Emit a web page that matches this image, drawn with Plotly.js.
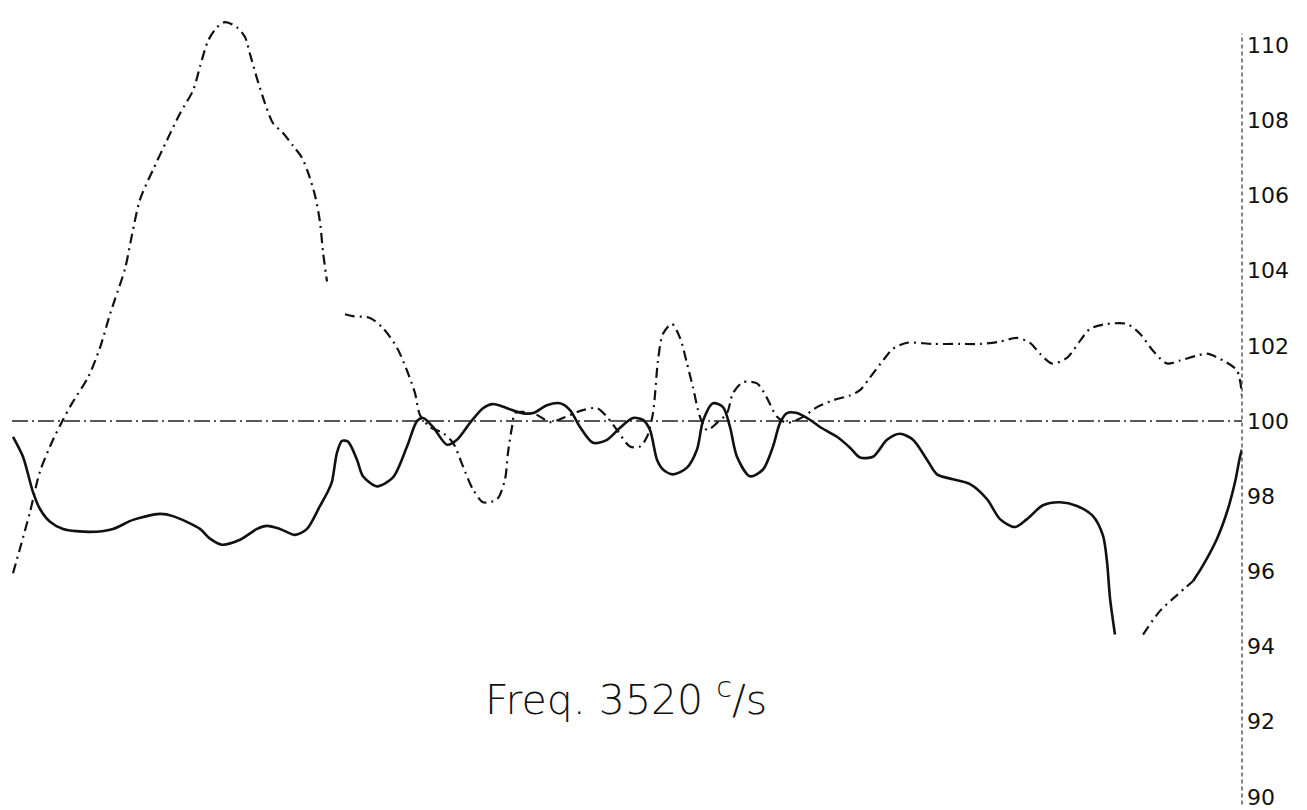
<!DOCTYPE html>
<html>
<head>
<meta charset="utf-8">
<script src="https://cdn.plot.ly/plotly-3.0.1.min.js"></script>
<style>
  html, body { margin: 0; padding: 0; background: #ffffff; }
  #chart { width: 1307px; height: 810px; }
</style>
</head>
<body>
<div id="chart"></div>
<script>
// ---- Data (x: position along record, y: level) ----
const solidX = [1.3, 2.3, 3.3, 4.0, 5.0, 6.3, 9.0, 11.3, 13.3, 16.0, 17.3, 20.0, 21.0, 22.2, 24.0, 25.7, 26.7, 28.0, 29.5, 30.7,
  32.0, 32.8, 33.2, 33.7, 34.2, 34.8, 35.7, 36.3, 37.7, 39.3, 40.7, 41.7, 42.3, 43.3, 44.7, 45.7, 47.0, 48.3, 49.3, 50.7,
  52.2, 53.3, 54.7, 56.0, 57.0, 58.0, 59.3, 60.7, 62.0, 63.3, 64.3, 65.0, 65.7, 66.3, 67.3, 68.7, 69.7, 70.3, 71.3, 72.3,
  73.0, 73.7, 75.0, 76.3, 77.3, 78.0, 78.7, 79.7, 81.0, 82.0, 83.7, 85.0, 86.0, 87.3, 88.7, 90.0, 91.3, 92.7, 93.7, 95.3,
  97.0, 98.7, 100.0, 101.5, 102.7, 104.3, 106.0, 107.7, 109.3, 110.3, 110.7, 111.0, 111.5,
  null, 119.3, 120.3, 121.7, 122.7, 123.5, 124.0, 124.2];
const solidY = [99.58, 99.05, 98.11, 97.66, 97.32, 97.13, 97.05, 97.13, 97.37, 97.53, 97.47, 97.13, 96.87, 96.71, 96.84, 97.13, 97.21, 97.13, 96.97, 97.13,
  97.74, 98.13, 98.39, 99.16, 99.47, 99.45, 98.97, 98.53, 98.26, 98.50, 99.32, 100.0, 100.08, 99.84, 99.37, 99.50, 99.95, 100.34, 100.45, 100.34,
  100.21, 100.21, 100.42, 100.47, 100.29, 99.84, 99.42, 99.50, 99.82, 100.08, 100.03, 99.76, 98.97, 98.71, 98.58, 98.76, 99.24, 100.0, 100.47, 100.37,
  99.84, 99.05, 98.53, 98.71, 99.32, 99.95, 100.21, 100.21, 100.03, 99.84, 99.58, 99.29, 99.03, 99.05, 99.50, 99.66, 99.50, 98.97, 98.58, 98.45,
  98.32, 97.92, 97.39, 97.18, 97.39, 97.76, 97.84, 97.74, 97.47, 96.95, 96.26, 95.29, 94.32,
  null, 95.74, 96.16, 96.87, 97.58, 98.37, 99.05, 99.24];

const returnX = [114.3, 116.0, 117.7, 119.3];
const returnY = [94.32, 94.95, 95.37, 95.74];

const dashX = [1.3, 2.0, 3.0, 4.0, 5.3, 6.3, 7.2, 8.8, 10.0, 11.0, 11.5, 12.5, 13.2, 14.0, 15.3, 16.7, 18.0, 19.3, 20.0, 20.8,
  21.7, 22.5, 23.7, 24.5, 25.0, 25.7, 26.5, 27.3, 28.3, 29.3, 30.2, 30.8, 31.5, 32.0, 32.3, 32.7,
  null, 34.5, 35.3, 37.0, 38.3, 39.7, 40.7, 41.5, 42.0, 43.0, 44.3, 45.3, 46.3, 47.3, 48.3, 49.7, 50.5, 50.8, 51.2, 51.5,
  52.3, 53.7, 55.0, 56.3, 58.3, 59.7, 60.7, 61.7, 63.0, 64.0, 64.7, 65.3, 65.8, 66.3, 67.2, 68.0, 68.7, 69.3, 70.0, 70.7,
  71.7, 72.7, 73.3, 74.3, 75.7, 76.7, 77.7, 78.7, 80.3, 81.7, 83.3, 85.0, 86.0, 87.0, 88.3, 89.3, 90.7, 93.3, 96.0, 98.0,
  100.0, 101.7, 103.0, 104.0, 105.2, 106.7, 108.0, 109.0, 110.7, 112.7, 114.0, 115.3, 116.7, 118.0, 119.7, 120.7, 122.3, 123.7, 124.2];
const dashY = [95.95, 96.61, 97.58, 98.66, 99.50, 100.03, 100.47, 101.16, 101.95, 102.84, 103.24, 104.05, 104.95, 105.89, 106.68, 107.47, 108.18, 108.79, 109.42, 110.11,
  110.47, 110.61, 110.47, 110.21, 109.76, 109.11, 108.45, 107.92, 107.66, 107.32, 107.0, 106.61, 106.0, 105.29, 104.5, 103.71,
  null, 102.84, 102.79, 102.74, 102.47, 101.95, 101.34, 100.74, 100.16, 99.84, 99.68, 99.42, 98.79, 98.18, 97.84, 97.92, 98.45, 99.16, 99.84, 100.21,
  100.24, 100.16, 99.97, 100.08, 100.29, 100.34, 100.11, 99.76, 99.32, 99.32, 99.58, 100.21, 101.61, 102.32, 102.58, 102.21, 101.53, 100.89, 100.11, 99.76,
  99.95, 100.21, 100.74, 101.03, 101.0, 100.61, 100.11, 99.95, 100.11, 100.37, 100.55, 100.68, 100.82, 101.16, 101.61, 101.92, 102.08, 102.05, 102.05, 102.05,
  102.11, 102.21, 102.08, 101.79, 101.53, 101.68, 102.13, 102.45, 102.58, 102.58, 102.32, 101.87, 101.53, 101.61, 101.74, 101.79, 101.61, 101.34, 100.68];

const referenceLevel = 100;
const referenceSpan = [1.2, 124.2];

const tickValues = [90, 92, 94, 96, 98, 100, 102, 104, 106, 108, 110];
const tickLabels = tickValues.map(String);
const chartTitle = 'Freq. 3520 <sup>c</sup>/s';

// ---- Traces ----
const ink = '#111111';
const dashDot = '10px,5px,2px,5px';

const traces = [
  {
    x: referenceSpan, y: referenceSpan.map(() => referenceLevel),
    mode: 'lines', line: { color: '#222222', width: 1.4, dash: '16px,4px,2px,4px' },
    hoverinfo: 'skip', showlegend: false
  },
  {
    x: dashX, y: dashY, mode: 'lines', connectgaps: false,
    line: { color: ink, width: 2.2, dash: dashDot, shape: 'spline', smoothing: 0.8 },
    showlegend: false
  },
  {
    x: returnX, y: returnY, mode: 'lines',
    line: { color: ink, width: 2.2, dash: dashDot, shape: 'spline', smoothing: 0.8 },
    showlegend: false
  },
  {
    x: solidX, y: solidY, mode: 'lines', connectgaps: false,
    line: { color: ink, width: 2.6, shape: 'spline', smoothing: 0.8 },
    showlegend: false
  }
];

const layout = {
  width: 1307, height: 810,
  paper_bgcolor: '#ffffff', plot_bgcolor: '#ffffff',
  margin: { l: 0, r: 65, t: 5, b: 5, pad: 0 },
  showlegend: false,
  title: {
    text: chartTitle,
    font: { family: 'DejaVu Sans', size: 41, color: '#111111', weight: 300 },
    xref: 'container', yref: 'container', x: 0.479, y: 0.136,
    xanchor: 'center', yanchor: 'middle'
  },
  xaxis: {
    range: [0, 124.2], visible: false, showgrid: false, zeroline: false
  },
  yaxis: {
    range: [89.787, 111.064], side: 'right',
    tickmode: 'array', tickvals: tickValues, ticktext: tickLabels,
    ticks: '', showgrid: false, zeroline: false, showline: false,
    tickfont: { family: 'DejaVu Sans', size: 22, color: '#111111' },
    ticklabelstandoff: 4, ticklabeloverflow: 'allow'
  },
  shapes: [
    {
      type: 'line', xref: 'paper', yref: 'y', x0: 1, x1: 1, y0: 89.8, y1: 110.3,
      line: { color: '#333333', width: 1.2, dash: '4px,3px' }
    }
  ]
};

Plotly.newPlot('chart', traces, layout, { displayModeBar: false, staticPlot: true });
</script>
</body>
</html>
